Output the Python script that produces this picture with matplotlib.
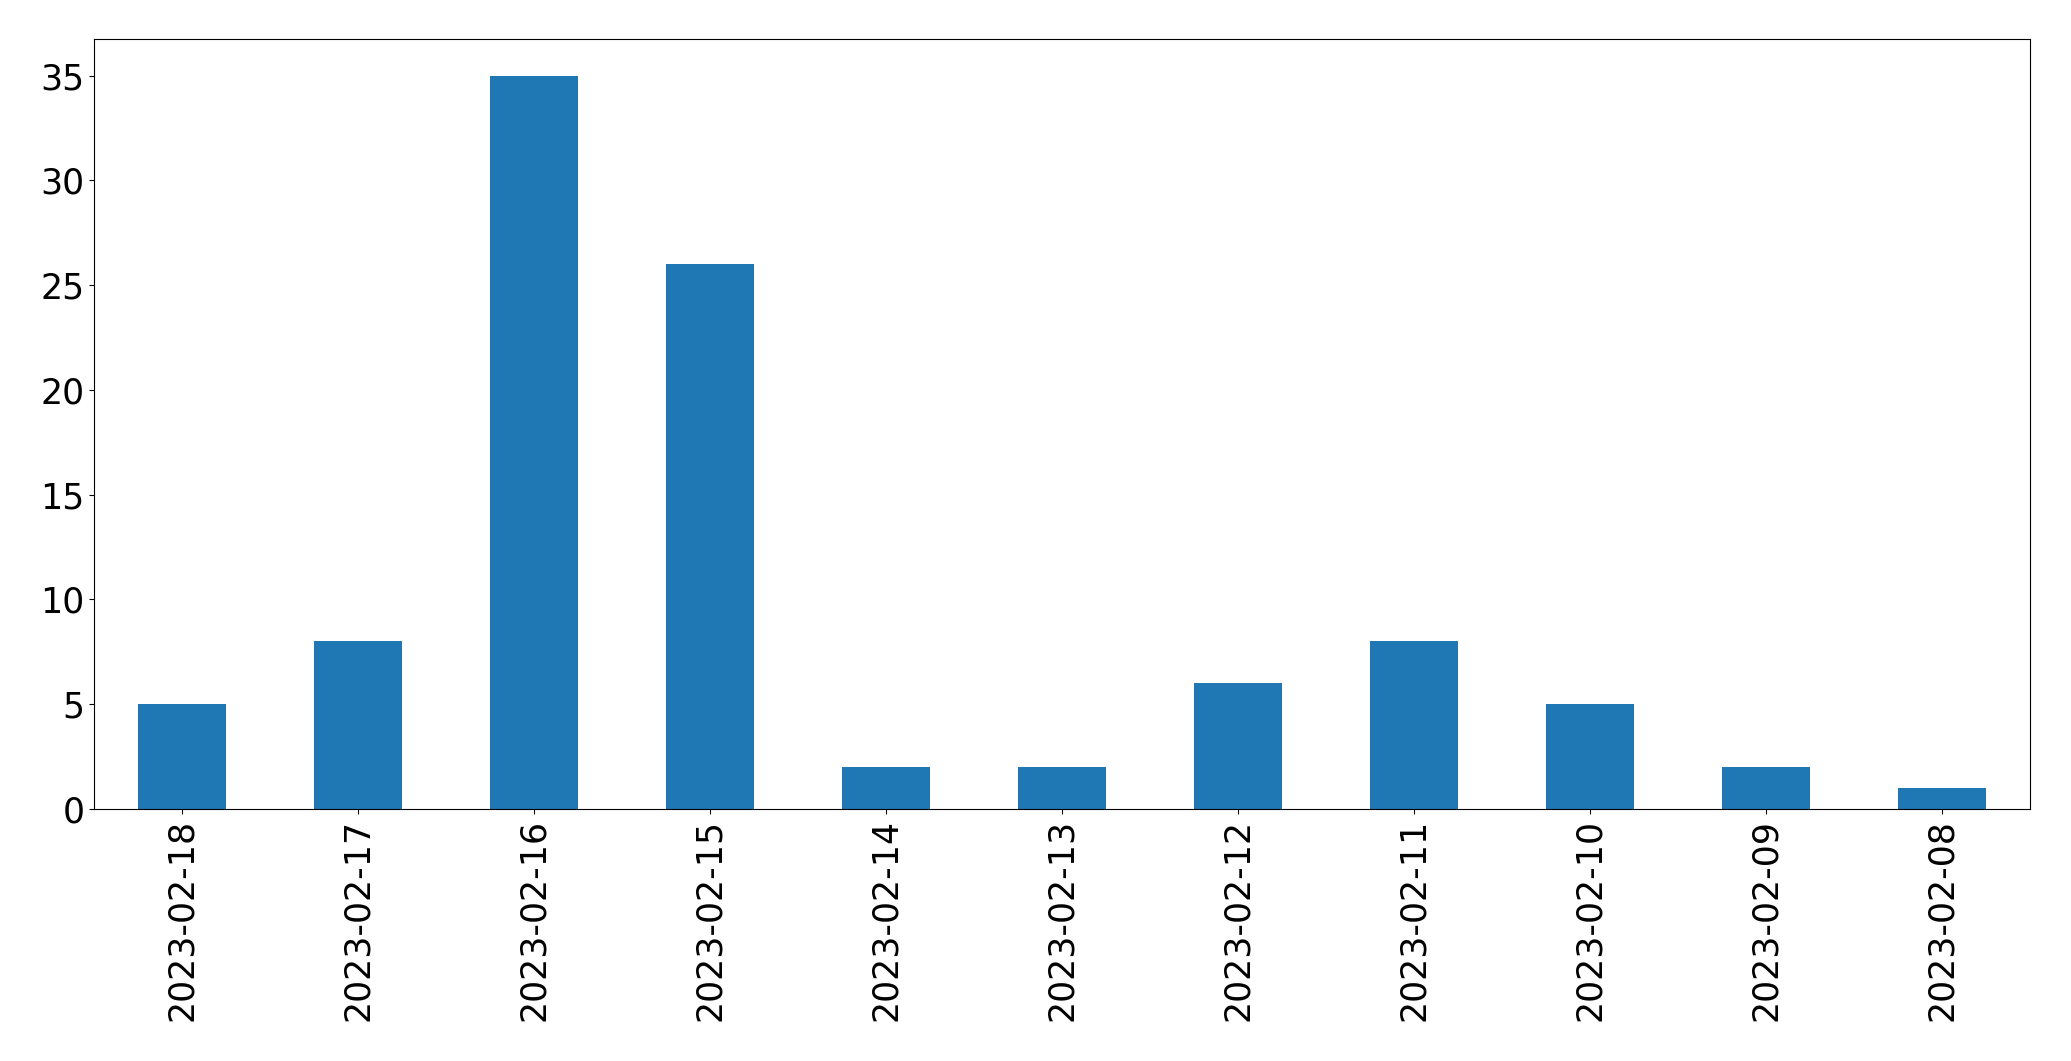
import matplotlib
matplotlib.use("Agg")
import matplotlib.pyplot as plt

dates = ["2023-02-18", "2023-02-17", "2023-02-16", "2023-02-15", "2023-02-14",
         "2023-02-13", "2023-02-12", "2023-02-11", "2023-02-10", "2023-02-09",
         "2023-02-08"]
counts = [5, 8, 35, 26, 2, 2, 6, 8, 5, 2, 1]

fig = plt.figure(figsize=(20.71, 10.61), dpi=100)
ax = fig.add_axes([0.0454, 0.2375, 0.9348, 0.7258])
x = range(len(dates))
ax.bar(x, counts, width=0.5, color="#1f77b4")
ax.set_xlim(-0.5, len(dates) - 0.5)
ax.set_ylim(0, max(counts) * 1.05)
ax.set_xticks(list(x))
ax.set_xticklabels(dates, rotation=90)
ax.tick_params(labelsize=25)
fig.savefig("out.png", dpi=100)
